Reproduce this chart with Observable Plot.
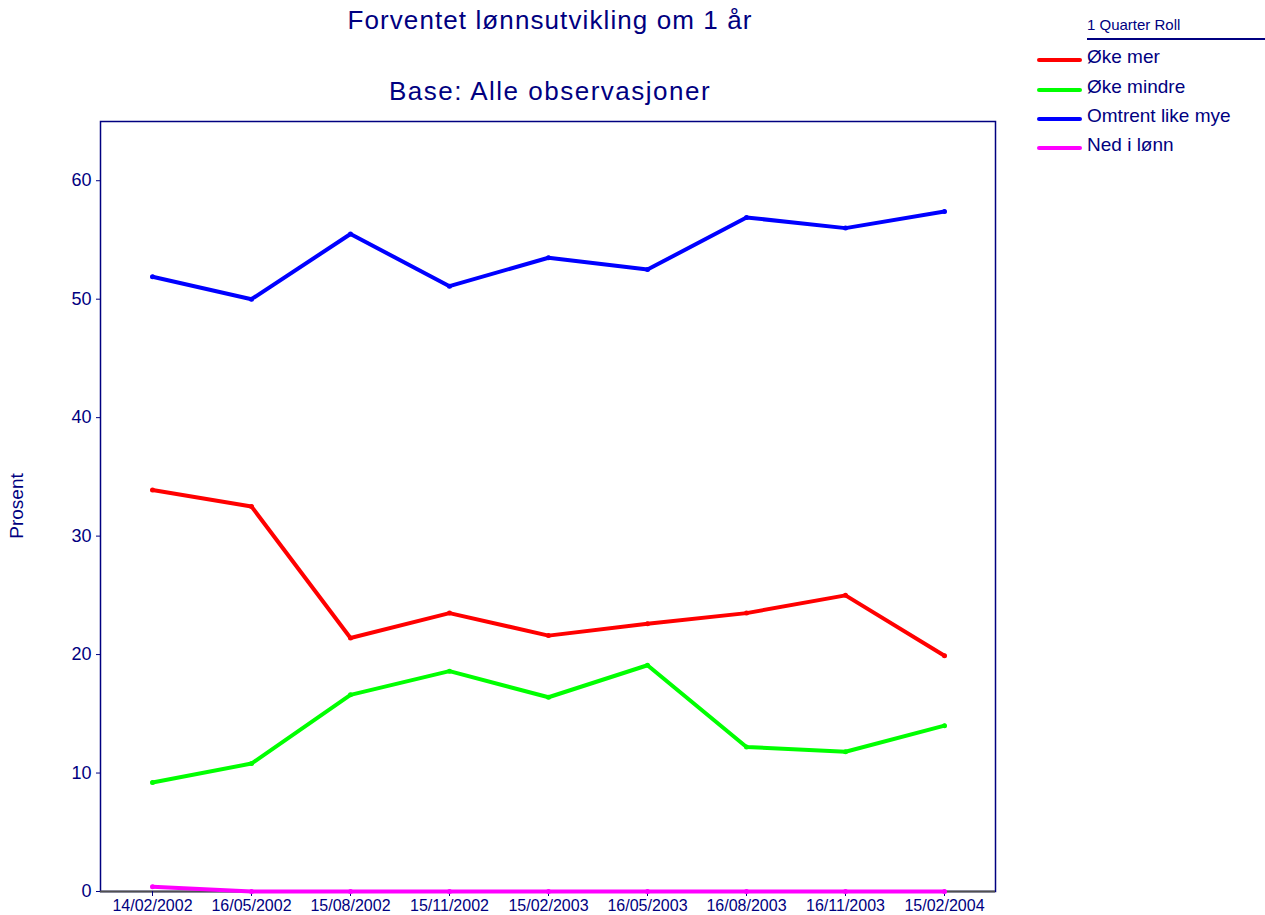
<!DOCTYPE html>
<html>
<head>
<meta charset="utf-8">
<script src="https://cdn.jsdelivr.net/npm/d3@7"></script>
<script src="https://cdn.jsdelivr.net/npm/@observablehq/plot@0.6"></script>
<style>
  body { margin: 0; background: #fff; font-family: "Liberation Sans", Arial, sans-serif; color: #000080; }
  #wrap { position: relative; width: 1265px; height: 915px; }
  #chart { position: absolute; left: 0; top: 0; }
  .t { position: absolute; white-space: nowrap; color: #000080; }
  .title { font-size: 26px; transform: translateX(-50%); }
  .leg { position: absolute; left: 1037px; width: 45px; height: 4px; border-radius: 2px; }
  .legtxt { position: absolute; left: 1087px; font-size: 19px; line-height: 20px; }
</style>
</head>
<body>
<div id="wrap">
  <div id="chart"></div>
  <div class="t title" style="left:550px; top:5px; letter-spacing:1.1px;">Forventet lønnsutvikling om 1 år</div>
  <div class="t title" style="left:550px; top:76px; letter-spacing:1.5px;">Base: Alle observasjoner</div>
  <div class="t" style="left:17px; top:506px; font-size:19px; transform: translate(-50%,-50%) rotate(-90deg);">Prosent</div>
  <div id="legend"></div>
</div>
<script>
const dates = ["14/02/2002","16/05/2002","15/08/2002","15/11/2002","15/02/2003","16/05/2003","16/08/2003","16/11/2003","15/02/2004"];
const seriesNames = ["Øke mer","Øke mindre","Omtrent like mye","Ned i lønn"];
const seriesColors = ["#FF0000","#00FF00","#0000FF","#FF00FF"];
const okeMer = [33.9, 32.5, 21.4, 23.5, 21.6, 22.6, 23.5, 25.0, 19.9];
const okeMindre = [9.2, 10.8, 16.6, 18.6, 16.4, 19.1, 12.2, 11.8, 14.0];
const omtrent = [51.9, 50.0, 55.5, 51.1, 53.5, 52.5, 56.9, 56.0, 57.4];
const ned = [0.4, 0, 0, 0, 0, 0, 0, 0, 0];
const yTicks = [0, 10, 20, 30, 40, 50, 60];
const legendTitle = "1 Quarter Roll";

const allSeries = [okeMer, okeMindre, omtrent, ned];
const data = [];
allSeries.forEach((vals, i) => vals.forEach((v, j) => data.push({series: seriesNames[i], date: dates[j], value: v})));

const plot = Plot.plot({
  width: 1265,
  height: 915,
  marginLeft: 100,
  marginRight: 270,
  marginTop: 121,
  marginBottom: 24,
  style: {fontFamily: "'Liberation Sans', Arial, sans-serif", color: "#000080", background: "#fff"},
  x: {type: "point", domain: dates, padding: 0.5, axis: null},
  y: {domain: [0, 65], axis: null},
  color: {domain: seriesNames, range: seriesColors},
  marks: [
    Plot.frame({stroke: "#000080", strokeWidth: 1.5}),
    Plot.ruleY([0], {stroke: "#505050", strokeWidth: 2}),
    Plot.axisY({ticks: yTicks, tickSize: 4, tickPadding: 5, fontSize: 18, label: null, stroke: "#000080", fill: "#000080"}),
    Plot.axisX({ticks: dates, tickSize: 5, tickPadding: 3, fontSize: 16, label: null, stroke: "#000080", fill: "#000080"}),
    Plot.line(data, {x: "date", y: "value", z: "series", stroke: "series", strokeWidth: 4, strokeLinejoin: "round", strokeLinecap: "round"}),
    Plot.dot(data, {x: "date", y: "value", fill: "series", r: 2.5})
  ]
});
document.getElementById("chart").appendChild(plot);

const leg = document.getElementById("legend");
const lt = document.createElement("div");
lt.className = "t";
lt.style.cssText = "left:1087px; top:16px; font-size:15px;";
lt.textContent = legendTitle;
leg.appendChild(lt);
const ul = document.createElement("div");
ul.style.cssText = "position:absolute; left:1087px; top:38px; width:178px; height:1.5px; background:#000080;";
leg.appendChild(ul);
const rowY = [60, 90, 119, 148];
seriesNames.forEach((n, i) => {
  const sw = document.createElement("div");
  sw.className = "leg";
  sw.style.top = (rowY[i] - 2) + "px";
  sw.style.background = seriesColors[i];
  leg.appendChild(sw);
  const tx = document.createElement("div");
  tx.className = "legtxt";
  tx.style.top = (rowY[i] - 13) + "px";
  tx.textContent = n;
  leg.appendChild(tx);
});
</script>
</body>
</html>
